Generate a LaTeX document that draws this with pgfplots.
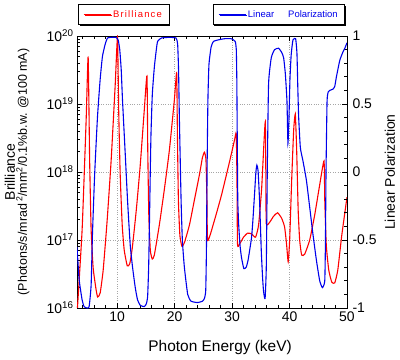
\documentclass[border=0pt]{standalone}
\usepackage{fontspec}
\setmainfont{Liberation Sans}
\newfontfamily\legfont[LetterSpace=12]{Liberation Sans}
\usepackage{pgfplots}
\pgfplotsset{compat=1.18}
\usetikzlibrary{shadows}
\definecolor{pr}{RGB}{255,0,0}
\definecolor{pb}{RGB}{0,0,235}
\begin{document}
\begin{tikzpicture}
\useasboundingbox (-77bp,-52bp) rectangle (323bp,308bp);
\pgfplotsset{
  common/.style={
    scale only axis, width=270bp, height=272bp, at={(0,0)}, anchor=south west,
    xmin=3, xmax=50,
    tick align=inside,
    major tick length=5bp, minor tick length=3bp,
    axis line style={line width=0.9bp},
    every tick/.style={black, line width=0.7bp},
    tick label style={font=\fontsize{14}{16}\selectfont},
    /pgf/number format/assume math mode=true,
    legend cell align=left,
    legend image code/.code={\draw[##1, line width=0.9bp] (0bp,0bp) -- (27bp,0bp);},
  },
}
\begin{axis}[common,
  ymode=log, ymin=1e16, ymax=1e20,
  ytick={1e16,1e17,1e18,1e19,1e20},
  minor ytick={2e16,3e16,4e16,5e16,6e16,7e16,8e16,9e16,
               2e17,3e17,4e17,5e17,6e17,7e17,8e17,9e17,
               2e18,3e18,4e18,5e18,6e18,7e18,8e18,9e18,
               2e19,3e19,4e19,5e19,6e19,7e19,8e19,9e19},
  log number format basis/.code 2 args={10\textsuperscript{\pgfmathprintnumber{#2}}},
  ytick pos=left, xtick pos=both,
  xtick={10,20,30,40,50},
  minor xtick={4,6,8,12,14,16,18,22,24,26,28,32,34,36,38,42,44,46,48},
  grid=major,
  minor grid style={draw=none},
  major grid style={gray!70, dotted, line width=0.6bp},
  xlabel={Photon Energy (keV)},
  xlabel style={font=\fontsize{15.5}{17}\selectfont, at={(axis description cs:0.53,-0.147)}, anchor=center},
  ylabel={{\fontsize{14}{14}\selectfont Brilliance}\\[0bp]{\fontsize{12.5}{14}\selectfont (Photons/s/mrad\,\textsuperscript{2}/mm\textsuperscript{2}/0.1\%b.w. @100 mA)}},
  ylabel style={align=center, at={(axis description cs:-0.222,0.5)}, anchor=center, rotate=0},
  legend style={at={(0,1)}, anchor=south west, xshift=1bp, yshift=11bp,
    draw=black, line width=0.6bp, fill=white, inner xsep=5bp, inner ysep=4bp,
    drop shadow={shadow xshift=1.3bp, shadow yshift=-1.3bp, fill=black, opacity=1},
    font=\fontsize{9.5}{11}\legfont, text=pr},
]
\addplot[pr, line width=1.1bp, smooth, tension=0.3] coordinates {
(3.0,7.9e15) (3.89,1.41e17) (4.59,5.75e18) (4.94,4.9e19) (5.2,1.51e18) (5.46,1.41e17)
(5.81,3.89e16) (6.34,1.82e16) (6.6,1.45e16) (7.03,1.66e16) (7.56,3.63e16) (8.25,1.95e17)
(8.95,1.51e18) (9.65,1.91e19) (10.05,9.5e19) (10.26,7.9e18) (10.52,9.1e17) (10.87,1.66e17)
(11.22,7.1e16) (11.75,4.17e16) (12.18,4.47e16) (12.62,7.6e16) (13.32,2.75e17) (14.01,1.26e18)
(14.71,8.1e18) (15.18,2.57e19) (15.32,2.09e18) (15.5,2.34e17) (15.76,7.1e16) (16.1,5.25e16)
(16.46,6.0e16) (17.33,1.66e17) (18.2,5.5e17) (19.08,2.09e18) (19.95,1.15e19) (20.35,2.88e19)
(20.47,4.17e18) (20.65,3.89e17) (20.91,1.17e17) (21.26,8.1e16) (21.69,9.1e16) (22.57,1.66e17)
(23.44,3.89e17) (24.31,9.1e17) (24.83,1.62e18) (25.18,1.95e18) (25.45,1.51e18) (25.62,3.89e17)
(25.76,9.8e16) (26.93,1.95e17) (28.15,4.57e17) (29.55,1.41e18) (30.42,2.95e18) (30.72,3.63e18)
(30.85,7.6e17) (30.94,8.7e16) (31.29,8.7e16) (31.99,1.1e17) (32.69,1.26e17) (33.39,1.23e17)
(34.08,1.1e17) (34.61,1.66e17) (35.13,5.5e17) (35.48,2.09e18) (35.78,5.5e18) (35.88,7.6e17)
(35.95,1.74e17) (36.53,1.82e17) (37.23,2.24e17) (37.92,2.51e17) (38.62,2.09e17) (39.14,1.55e17)
(39.49,8.5e16) (39.76,4.79e16) (40.02,1.0e17) (40.37,7.6e17) (40.72,4.17e18) (41.0,7.1e18)
(41.24,2.09e18) (41.5,2.75e17) (41.76,1.0e17) (42.11,6.0e16) (42.64,6.2e16) (43.51,1.0e17)
(44.38,2.34e17) (45.25,6.5e17) (46.0,1.45e18) (46.13,3.89e17) (46.39,8.5e16) (46.82,3.63e16)
(47.35,2.4e16) (47.87,2.34e16) (48.4,3.63e16) (49.09,1.17e17) (50.0,4.27e17)
};
\addlegendentry{Brilliance}
\end{axis}
\begin{axis}[common,
  ymin=-1, ymax=1,
  axis y line*=right, axis x line=none,
  ytick={-1,-0.5,0,0.5,1},
  yticklabels={-1,-0.5,0,0.5,1},
  minor y tick num=4,
  yticklabel style={xshift=2bp},
  ylabel={Linear Polarization},
  ylabel style={font=\fontsize{14}{16}\selectfont, at={(axis description cs:1.159,0.5)}, anchor=center, rotate=0},
  legend style={at={(1,1)}, anchor=south east, xshift=-2bp, yshift=11bp,
    draw=black, line width=0.6bp, fill=white, inner xsep=5bp, inner ysep=4bp,
    drop shadow={shadow xshift=1.3bp, shadow yshift=-1.3bp, fill=black, opacity=1},
    font=\fontsize{9.5}{11}\selectfont, text=pb},
]
\addplot[pb, line width=1.1bp, smooth, tension=0.3] coordinates {
(3.0,-0.55) (3.37,-0.79) (3.89,-0.94) (4.24,-0.99) (4.76,-1.0) (5.11,-0.99) (5.46,-0.83)
(5.69,-0.46) (6.07,-0.02) (6.56,0.40) (7.03,0.68) (7.43,0.85) (7.91,0.94) (8.31,0.985)
(8.95,0.99) (9.77,0.99) (10.17,0.97) (10.44,0.90) (10.70,0.75) (10.92,0.53) (11.40,0.13)
(11.80,-0.21) (12.27,-0.54) (12.67,-0.70) (13.14,-0.85) (13.54,-0.94) (14.01,-0.98) (14.71,-0.99)
(15.06,-0.97) (15.29,-0.92) (15.46,-0.72) (15.58,-0.46) (15.76,0.01) (15.88,0.28) (16.11,0.57)
(16.46,0.77) (16.81,0.90) (17.03,0.96) (17.68,0.985) (19.08,0.99) (20.24,0.985) (20.52,0.94)
(20.68,0.75) (20.82,0.40) (21.12,-0.21) (21.34,-0.50) (21.69,-0.70) (22.27,-0.90) (22.86,-0.95)
(24.01,-0.96) (24.83,-0.95) (25.18,-0.93) (25.41,-0.87) (25.53,-0.57) (25.65,0.04) (25.79,0.53)
(25.97,0.79) (26.35,0.92) (26.75,0.96) (27.45,0.97) (28.67,0.98) (29.84,0.98) (30.54,0.96)
(30.73,0.90) (30.82,0.68) (30.89,0.28) (30.99,-0.21) (31.15,-0.39) (31.38,-0.54) (31.64,-0.63)
(32.04,-0.71) (32.46,-0.70) (32.77,-0.65) (33.04,-0.58) (33.39,-0.48) (33.61,-0.36) (33.91,-0.16)
(34.14,0.0) (34.31,0.05) (34.52,0.01) (34.78,-0.21) (35.08,-0.58) (35.31,-0.78) (35.48,-0.88)
(35.74,-0.93) (35.95,-0.70) (36.13,0.03) (36.35,0.65) (36.82,0.84) (37.40,0.90) (38.10,0.91)
(38.62,0.88) (38.97,0.84) (39.27,0.72) (39.55,0.52) (39.72,0.21) (39.90,0.40) (40.07,0.68)
(40.28,0.86) (40.59,0.97) (41.06,0.98) (41.29,0.87) (41.45,0.60) (41.59,0.40) (41.88,0.18)
(42.34,0.08) (42.93,-0.06) (43.51,-0.26) (44.08,-0.46) (44.68,-0.65) (45.25,-0.80) (45.72,-0.85)
(46.13,-0.80) (46.25,-0.50) (46.35,0.01) (46.53,0.52) (46.74,0.59) (47.00,0.60) (47.57,0.61)
(47.87,0.63) (48.16,0.70) (48.74,0.82) (49.27,0.88) (49.62,0.91) (50.00,0.95)
};
\addlegendentry{Linear\hspace*{14bp}Polarization}
\end{axis}
\end{tikzpicture}
\end{document}
